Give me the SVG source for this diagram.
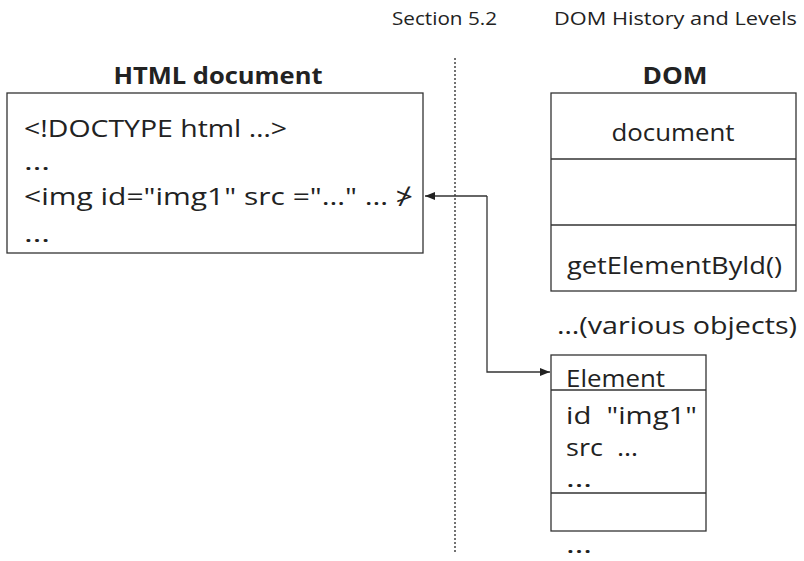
<svg xmlns="http://www.w3.org/2000/svg" width="804" height="561" viewBox="0 0 804 561">
<style>
text{font-family:"Open Sans","Noto Sans","DejaVu Sans",sans-serif;fill:#222}
.t{font-size:24px}
.h{font-size:24px;font-weight:bold;text-anchor:middle}
.s{font-size:18px}
.box{fill:#fff;stroke:#333;stroke-width:1.3}
.ln{stroke:#333;stroke-width:1.3;fill:none}
</style>
<defs>
<marker id="ah" markerWidth="10" markerHeight="8" refX="10" refY="4" orient="auto" markerUnits="userSpaceOnUse">
<path d="M0,0 L10,4 L0,8 z" fill="#222"/>
</marker>
</defs>
<text class="s" x="392" y="25" textLength="105" lengthAdjust="spacingAndGlyphs">Section 5.2</text>
<text class="s" x="554" y="25" textLength="243" lengthAdjust="spacingAndGlyphs">DOM History and Levels</text>
<line x1="455" y1="58" x2="455" y2="552" stroke="#444" stroke-width="1.5" stroke-dasharray="2,2"/>
<g id="html">
<text class="h" x="218" y="84" textLength="209" lengthAdjust="spacingAndGlyphs">HTML document</text>
<rect class="box" x="7" y="93" width="416" height="160"/>
<text class="t" x="24" y="137" textLength="263" lengthAdjust="spacingAndGlyphs">&lt;!DOCTYPE html …&gt;</text>
<text class="t" x="24" y="170" textLength="26" lengthAdjust="spacingAndGlyphs">…</text>
<text class="t" x="24" y="205" textLength="389" lengthAdjust="spacingAndGlyphs">&lt;img id="img1" src ="…" … ≯</text>
<text class="t" x="24" y="242" textLength="26" lengthAdjust="spacingAndGlyphs">…</text>
</g>
<g id="dom">
<text class="h" x="675" y="84" textLength="65" lengthAdjust="spacingAndGlyphs">DOM</text>
<rect class="box" x="551" y="93" width="245" height="198"/>
<line class="ln" x1="551" y1="159" x2="796" y2="159"/>
<line class="ln" x1="551" y1="225" x2="796" y2="225"/>
<text class="t" x="673" y="141" text-anchor="middle" textLength="123" lengthAdjust="spacingAndGlyphs">document</text>
<text class="t" x="567" y="274" textLength="215" lengthAdjust="spacingAndGlyphs">getElementByld()</text>
</g>
<text class="t" x="557" y="334" textLength="240" lengthAdjust="spacingAndGlyphs">…(various objects)</text>
<g id="element">
<rect class="box" x="551" y="355" width="155" height="176"/>
<line class="ln" x1="551" y1="390" x2="706" y2="390"/>
<line class="ln" x1="551" y1="493" x2="706" y2="493"/>
<text class="t" x="566" y="387" textLength="99" lengthAdjust="spacingAndGlyphs">Element</text>
<text class="t" x="566" y="424" textLength="131" lengthAdjust="spacingAndGlyphs">id&#160; "img1"</text>
<text class="t" x="566" y="456" textLength="72" lengthAdjust="spacingAndGlyphs">src&#160; …</text>
<text class="t" x="566" y="487" textLength="26" lengthAdjust="spacingAndGlyphs">…</text>
</g>
<text class="t" x="566" y="553" textLength="26" lengthAdjust="spacingAndGlyphs">…</text>
<g id="connectors">
<path class="ln" d="M487,196 L425,196" marker-end="url(#ah)"/>
<path class="ln" d="M487,196 L487,372 L550,372" marker-end="url(#ah)"/>
</g>
</svg>
